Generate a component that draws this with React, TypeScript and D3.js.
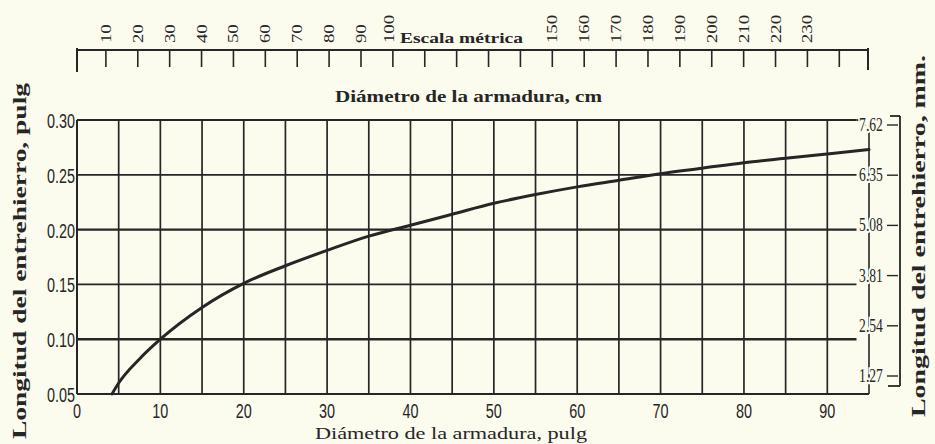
import React from "react"
import * as d3 from "d3"

// curve: armature diameter (in) vs air-gap length (in)
const diamPulg = [4.2, 5, 7.5, 10, 15, 20, 25, 30, 35, 40, 45, 50, 55, 60, 65, 70, 75, 80, 85, 90, 95]
const gapPulg = [0.05, 0.06, 0.082, 0.1, 0.129, 0.151, 0.167, 0.181, 0.194, 0.204, 0.214, 0.224, 0.232, 0.239, 0.245, 0.251, 0.256, 0.261, 0.265, 0.269, 0.273]

const xTicks = [0, 10, 20, 30, 40, 50, 60, 70, 80, 90]
const yTicks = [0.05, 0.1, 0.15, 0.2, 0.25, 0.3]
const mmTicks = ["1.27", "2.54", "3.81", "5.08", "6.35", "7.62"]
const cmTicks = [10, 20, 30, 40, 50, 60, 70, 80, 90, 100, 110, 120, 130, 140, 150, 160, 170, 180, 190, 200, 210, 220, 230, 240]
const cmLabels = [10, 20, 30, 40, 50, 60, 70, 80, 90, 100, 150, 160, 170, 180, 190, 200, 210, 220, 230]

const BG = "#fbfbee"
const INK = "#262626"
const SERIF = "'Liberation Serif', 'DejaVu Serif', serif"
const SANS = "'Liberation Sans', Arial, sans-serif"

export default function App() {
  const W = 935
  const H = 444

  const x = d3.scaleLinear().domain([0, 95]).range([77, 869])
  const y = d3.scaleLinear().domain([0.05, 0.3]).range([394, 120])
  // the printed mm scale sits a little inside the inch scale on the scan
  const yMm = d3.scaleLinear().domain([1.27, 7.62]).range([376, 125])
  const xCm = d3.scaleLinear().domain([0, 249]).range([74, 868])

  const grid = d3.range(5, 95, 5)
  const line = d3.line<number>()
    .x((_, i) => x(diamPulg[i]))
    .y(d => y(d))
    .curve(d3.curveMonotoneX)

  const axisY = 50

  return (
    <svg width={W} height={H} style={{ position: "absolute", left: 0, top: 0, background: BG }}>
      <rect x={0} y={0} width={W} height={H} fill={BG} />

      {/* top metric scale */}
      <line x1={xCm(0) + 3} x2={868} y1={axisY} y2={axisY} stroke={INK} strokeWidth={2.2} />
      <line x1={77} x2={77} y1={axisY - 2} y2={axisY + 22} stroke={INK} strokeWidth={2} />
      <line x1={868} x2={868} y1={axisY - 2} y2={axisY + 20} stroke={INK} strokeWidth={2} />
      {cmTicks.map(c => (
        <line key={c} x1={xCm(c)} x2={xCm(c)} y1={axisY} y2={axisY + 17} stroke={INK} strokeWidth={1.6} />
      ))}
      {cmLabels.map(c => (
        <text key={c} transform={`translate(${xCm(c) + (c === 100 ? 1 : 5)},${axisY - 7}) rotate(-90) scale(1.25,1)`}
          fontFamily={SERIF} fontSize={15} fill={INK}>{c}</text>
      ))}
      <text x={400} y={43} fontFamily={SERIF} fontWeight="bold" fontSize={15} fill={INK}
        textLength={123} lengthAdjust="spacingAndGlyphs">Escala métrica</text>
      <text x={335} y={102} fontFamily={SERIF} fontWeight="bold" fontSize={17} fill={INK}
        textLength={267} lengthAdjust="spacingAndGlyphs">Diámetro de la armadura, cm</text>

      {/* grid */}
      {grid.map(g => (
        <line key={g} x1={x(g)} x2={x(g)} y1={y(0.3)} y2={y(0.05)} stroke={INK} strokeWidth={1.7} />
      ))}
      {yTicks.map(t => (
        <line key={t} x1={x(0)} x2={t === 0.05 ? x(95) : x(93.5)} y1={y(t)} y2={y(t)} stroke={INK}
          strokeWidth={t === 0.2 || t === 0.1 ? 2.4 : 1.8} />
      ))}
      <line x1={x(0)} x2={x(0)} y1={y(0.3)} y2={y(0.05)} stroke={INK} strokeWidth={2} />
      <line x1={x(95)} x2={x(95)} y1={y(0.3) + 6} y2={y(0.05)} stroke={INK} strokeWidth={1.6} />
      <path d={`M${x(93.5)},${y(0.3)} q8,0 8,6`} fill="none" stroke={INK} strokeWidth={1.8} />

      {/* curve */}
      <path d={line(gapPulg) ?? ""} fill="none" stroke={INK} strokeWidth={3} strokeLinecap="round" />

      {/* left axis labels */}
      {yTicks.map(t => (
        <text key={t} transform={`translate(75,${y(t) + 8}) scale(0.8,1.15)`} textAnchor="end"
          fontFamily={SANS} fontSize={18} fill={INK}>
          {t.toFixed(2)}
        </text>
      ))}
      {/* bottom axis labels */}
      {xTicks.map(t => (
        <text key={t} transform={`translate(${x(t)},418) scale(0.8,1.15)`} textAnchor="middle"
          fontFamily={SANS} fontSize={18} fill={INK}>
          {t}
        </text>
      ))}

      {/* right mm scale */}
      <line x1={900} x2={900} y1={116} y2={386} stroke={INK} strokeWidth={1.8} />
      <line x1={890} x2={900} y1={116} y2={116} stroke={INK} strokeWidth={1.8} />
      <line x1={888} x2={900} y1={386} y2={386} stroke={INK} strokeWidth={1.8} />
      {mmTicks.map(m => (
        <g key={m}>
          <line x1={887} x2={898} y1={yMm(+m)} y2={yMm(+m)} stroke={INK} strokeWidth={1.4} />
          <text transform={`translate(871,${yMm(+m) + 6}) scale(0.85,1.15)`} textAnchor="middle"
            fontFamily={SERIF} fontSize={16} fill={INK}
            stroke={BG} strokeWidth={4} paintOrder="stroke">{m}</text>
        </g>
      ))}

      {/* axis titles */}
      <text transform="translate(26,261) rotate(-90)" textAnchor="middle" fontFamily={SERIF} fontWeight="bold"
        fontSize={18} fill={INK} textLength={356} lengthAdjust="spacingAndGlyphs">Longitud del entrehierro, pulg</text>
      <text transform="translate(925,236) rotate(-90)" textAnchor="middle" fontFamily={SERIF} fontWeight="bold"
        fontSize={18} fill={INK} textLength={362} lengthAdjust="spacingAndGlyphs">Longitud del entrehierro, mm.</text>
      <text x={315} y={439} fontFamily={SERIF} fontSize={16} fill={INK}
        textLength={272} lengthAdjust="spacingAndGlyphs">Diámetro de la armadura, pulg</text>
    </svg>
  )
}
